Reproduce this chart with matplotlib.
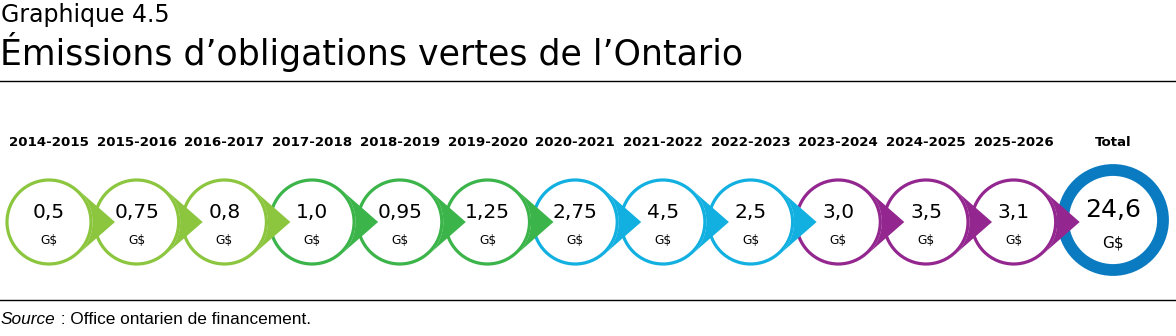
import numpy as np
import matplotlib
matplotlib.use("Agg")
import matplotlib.pyplot as plt
from matplotlib.patches import Circle, Polygon

# data
periods = ["2014-2015", "2015-2016", "2016-2017", "2017-2018", "2018-2019", "2019-2020",
           "2020-2021", "2021-2022", "2022-2023", "2023-2024", "2024-2025", "2025-2026"]
values = [0.5, 0.75, 0.8, 1.0, 0.95, 1.25, 2.75, 4.5, 2.5, 3.0, 3.5, 3.1]
colors = ["#8cc63f"] * 3 + ["#3bb44a"] * 3 + ["#12b0e0"] * 3 + ["#93278f"] * 3
total_color = "#0b7bc1"
unit = "G$"


def fr(v):
    s = f"{round(v, 2):g}"
    if "." not in s:
        s += ".0"
    return s.replace(".", ",")


W, H = 1176, 336
fig = plt.figure(figsize=(W / 100, H / 100), dpi=100)
ax = fig.add_axes([0, 0, 1, 1])
ax.set_xlim(0, W)
ax.set_ylim(H, 0)
ax.axis("off")

font = "DejaVu Sans"

# header
ax.text(1, 15, "Graphique 4.5", fontsize=17, family=font, va="center", ha="left")
ax.text(0, 52, "Émissions d’obligations vertes de l’Ontario", fontsize=25, family=font,
        va="center", ha="left")
ax.plot([0, W], [81, 81], color="black", lw=1)
ax.plot([0, W], [300, 300], color="black", lw=1)
src = ax.text(1, 324, "Source", fontsize=12.4, family="Liberation Sans", style="italic",
              va="baseline", ha="left")
ax.annotate(" : Office ontarien de financement.", xy=(1, 0), xycoords=src, va="bottom",
            ha="left", fontsize=12.4, family="Liberation Sans")

x0, step, cy = 49, 87.7, 222
r = 42
tip = 66
for i, (p, v, c) in enumerate(zip(periods, values, colors)):
    cx = x0 + i * step
    ax.add_patch(Circle((cx, cy), r, facecolor="white", edgecolor=c, lw=2.3, zorder=1))
    ro = r + 1.5
    th = np.arccos(ro / tip)
    a = np.linspace(th, -th, 30)
    pts = [(cx + tip, cy)] + [(cx + ro * np.cos(t), cy - ro * np.sin(t)) for t in a]
    ax.add_patch(Polygon(pts, closed=True, facecolor=c, edgecolor="none", zorder=2))
    ax.text(cx, 142, p, fontsize=9.6, fontweight="bold", family=font, ha="center", va="center")
    ax.text(cx, 212, fr(v), fontsize=14.5, family=font, ha="center", va="center", zorder=3)
    ax.text(cx, 240, unit, fontsize=8.8, family=font, ha="center", va="center", zorder=3)

# total
tx, ty = 1113, 220
total = sum(values)
ax.add_patch(Circle((tx, ty), 50, facecolor="white", edgecolor=total_color, lw=8.5, zorder=1.5))
ax.text(tx, 142, "Total", fontsize=9.6, fontweight="bold", family=font, ha="center", va="center")
ax.text(tx, 210, fr(total), fontsize=18, family=font, ha="center", va="center", zorder=3)
ax.text(tx, 243, unit, fontsize=11, family=font, ha="center", va="center", zorder=3)

fig.savefig("out.png", dpi=100)
